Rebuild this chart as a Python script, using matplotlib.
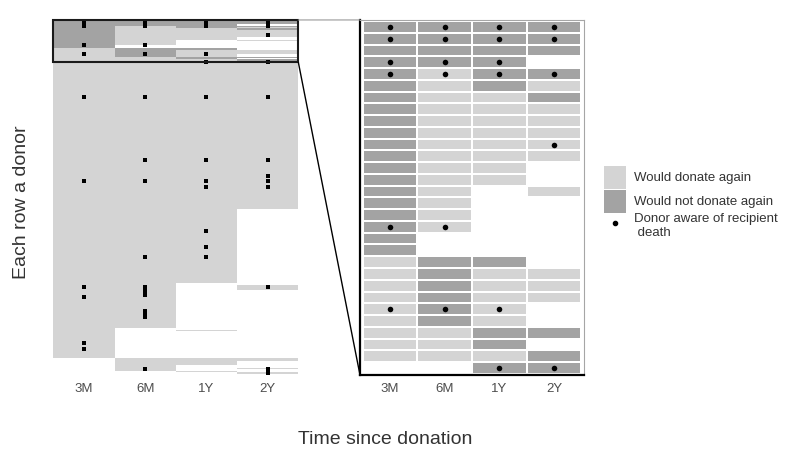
import numpy as np
import matplotlib
matplotlib.use("Agg")
from matplotlib import pyplot as plt
from matplotlib.colors import ListedColormap
from matplotlib.patches import Patch, Rectangle, ConnectionPatch
from matplotlib.lines import Line2D

plt.rcParams['font.family'] = ['Liberation Sans', 'DejaVu Sans']

periods = ["3M", "6M", "1Y", "2Y"]
n_donors = 252

# first 30 donors (zoomed panel): D = would not donate again,
# L = would donate again, - = no answer
top_rows = [
    "DDDD", "DDDD", "DDDD", "DDD-", "DLDD", "DLDL", "DLLD", "DLLL", "DLLL", "DLLL",
    "DLLL", "DLLL", "DLL-", "DLL-", "DL-L", "DL--", "DL--", "DL--", "D---", "D---",
    "LDD-", "LDLL", "LDLL", "LDLL", "LDL-", "LDL-", "LLDD", "LLD-", "LLLD", "--DD",
]
top_dots = {
    "3M": [1, 2, 4, 5, 18, 25],
    "6M": [1, 2, 4, 5, 18, 25],
    "1Y": [1, 2, 4, 5, 25, 30],
    "2Y": [1, 2, 5, 11, 30],
}

# remaining donors: runs of "would donate again" (first, last donor)
rest_light = {
    "3M": [(31, 240)],
    "6M": [(31, 219), (241, 249)],
    "1Y": [(31, 187), (221, 221), (241, 245), (250, 250)],
    "2Y": [(31, 134), (189, 192), (241, 242), (248, 248), (251, 251)],
}
rest_dots = {
    "3M": [55, 115, 190, 197, 230, 234],
    "6M": [55, 100, 115, 169, 190, 193, 196, 207, 209, 211, 248],
    "1Y": [55, 100, 115, 119, 150, 162, 169],
    "2Y": [55, 100, 111, 115, 119, 190, 248, 251],
}

# build status matrix: 0 none, 1 would donate, 2 would not
code = {"-": 0, "L": 1, "D": 2}
status = np.zeros((n_donors, len(periods)), dtype=int)
for i, row in enumerate(top_rows):
    for j, c in enumerate(row):
        status[i, j] = code[c]
for j, p in enumerate(periods):
    for a, b in rest_light[p]:
        status[a - 1:b, j] = 1

light = '#d4d4d4'
dark = '#a3a3a3'
cmap = ListedColormap(['white', light, dark])

fig = plt.figure(figsize=(8, 4.74), dpi=100)
ax_l = fig.add_axes([0.0666, 0.2089, 0.3063, 0.749])
ax_r = fig.add_axes([0.45, 0.2089, 0.28, 0.749])

# overview panel
x_edges = np.arange(len(periods) + 1) + 0.5
y_all = np.arange(n_donors + 1) + 0.5
ax_l.pcolormesh(x_edges, y_all, status, cmap=cmap, vmin=0, vmax=2)
for j, p in enumerate(periods):
    rows = top_dots[p] + rest_dots[p]
    ax_l.scatter(np.full(len(rows), j + 1), rows, s=5, color='black',
                 marker='s', linewidths=0, zorder=3)
ax_l.set_xlim(0.5, 4.5)
ax_l.set_ylim(n_donors + 0.5, 0.5)
for s in ax_l.spines.values():
    s.set_visible(False)

# zoomed panel
n_top = len(top_rows)
y_top = np.arange(n_top + 1) + 0.5
ax_r.pcolormesh(x_edges, y_top, status[:n_top], cmap=cmap, vmin=0, vmax=2,
                edgecolors='white', linewidth=1.2)
for j, p in enumerate(periods):
    rows = top_dots[p]
    ax_r.scatter(np.full(len(rows), j + 1), rows, s=16, color='black',
                 linewidths=0, zorder=3)
ax_r.set_xlim(0.45, 4.55)
ax_r.set_ylim(n_top + 0.6, 0.4)
ax_r.spines['left'].set_linewidth(1.6)
ax_r.spines['bottom'].set_linewidth(1.6)
ax_r.spines['top'].set_color('0.65')
ax_r.spines['right'].set_color('0.65')
ax_r.spines['top'].set_linewidth(0.8)
ax_r.spines['right'].set_linewidth(0.8)

for ax in (ax_l, ax_r):
    ax.set_xticks(range(1, len(periods) + 1))
    ax.set_xticklabels(periods)
    ax.set_yticks([])
    ax.tick_params(axis='x', length=0, pad=6, labelsize=9.5, labelcolor='#4d4d4d')

# box around the zoomed donors and connectors
ax_l.add_patch(Rectangle((0.5, 0.5), 4, n_top, fill=False, edgecolor='0.1',
                         linewidth=1.5, clip_on=False, zorder=4))
fig.add_artist(ConnectionPatch((4.5, 0.5), (0.45, 0.4), 'data', 'data',
                               axesA=ax_l, axesB=ax_r, color='0.6', lw=0.8))
fig.add_artist(ConnectionPatch((4.5, n_top + 0.5), (0.45, n_top + 0.6), 'data', 'data',
                               axesA=ax_l, axesB=ax_r, color='black', lw=1.0))

fig.text(0.0275, 0.574, 'Each row a donor', rotation=90, ha='center',
         va='center', fontsize=14, color='#333333')
fig.text(0.481, 0.072, 'Time since donation', ha='center', va='center',
         fontsize=14, color='#333333')

handles = [
    Patch(facecolor=light, edgecolor='none'),
    Patch(facecolor=dark, edgecolor='none'),
    Line2D([], [], marker='o', linestyle='none', color='black', markersize=3),
]
labels = ['Would donate again', 'Would not donate again',
          'Donor aware of recipient\n death']
fig.legend(handles, labels, loc='upper left', bbox_to_anchor=(0.740, 0.675),
           frameon=False, fontsize=9.5, handlelength=1.67, handleheight=2.3,
           labelspacing=0.05, handletextpad=0.6, labelcolor='#333333')

fig.savefig('out.png', dpi=100)
